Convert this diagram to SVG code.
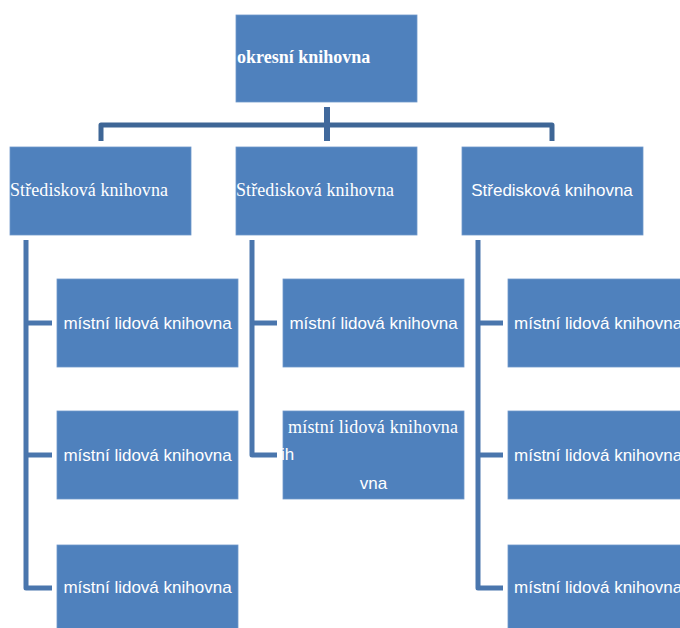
<svg xmlns="http://www.w3.org/2000/svg" width="680" height="628" viewBox="0 0 680 628">
<style>
.box{fill:#4f81bd;stroke:#6f98cb;stroke-width:0.8}
.top{fill:none;stroke:#3e6696;stroke-width:5;stroke-linejoin:round}
.vert{fill:none;stroke:#41699c;stroke-width:6}
.br{fill:none;stroke:#4a76ad;stroke-width:5;stroke-linejoin:round}
.serif{font-family:"Liberation Serif","Times New Roman",serif;font-size:18px;fill:#ffffff}
.bold{font-weight:bold}
.sans{font-family:"Liberation Sans",Arial,sans-serif;font-size:17px;fill:#ffffff}
</style>
<rect width="680" height="628" fill="#ffffff"/>
<g id="connectors">
<polyline class="top" points="101,141 101,125 552,125 552,141"/>
<line class="vert" x1="327" y1="107" x2="327" y2="141"/>
<polyline class="br" points="26,240 26,588 52,588"/>
<line class="br" x1="26" y1="323" x2="52" y2="323"/>
<line class="br" x1="26" y1="455" x2="52" y2="455"/>
<polyline class="br" points="252,240 252,455 277,455"/>
<line class="br" x1="252" y1="323" x2="277" y2="323"/>
<polyline class="br" points="478,240 478,588 503,588"/>
<line class="br" x1="478" y1="323" x2="503" y2="323"/>
<line class="br" x1="478" y1="455" x2="503" y2="455"/>
</g>
<g id="okresni">
<rect class="box" x="236" y="15" width="181" height="87"/>
<text class="serif bold" x="237" y="63">okresní knihovna</text>
</g>
<g id="stredisko1">
<rect class="box" x="10" y="147" width="181" height="88"/>
<text class="serif" x="10" y="196" textLength="158">Středisková knihovna</text>
</g>
<g id="stredisko2">
<rect class="box" x="236" y="147" width="181" height="88"/>
<text class="serif" x="236" y="196" textLength="158">Středisková knihovna</text>
</g>
<g id="stredisko3">
<rect class="box" x="462" y="147" width="181" height="88"/>
<text class="sans" x="552" y="196" text-anchor="middle">Středisková knihovna</text>
</g>
<g id="mlk1a">
<rect class="box" x="57" y="279" width="181" height="88"/>
<text class="sans" x="147.5" y="329" text-anchor="middle">místní lidová knihovna</text>
</g>
<g id="mlk1b">
<rect class="box" x="57" y="411" width="181" height="88"/>
<text class="sans" x="147.5" y="461" text-anchor="middle">místní lidová knihovna</text>
</g>
<g id="mlk1c">
<rect class="box" x="57" y="545" width="181" height="88"/>
<text class="sans" x="147.5" y="593" text-anchor="middle">místní lidová knihovna</text>
</g>
<g id="mlk2a">
<rect class="box" x="283" y="279" width="181" height="88"/>
<text class="sans" x="373.5" y="329" text-anchor="middle">místní lidová knihovna</text>
</g>
<g id="mlk2b">
<rect class="box" x="283" y="411" width="181" height="88"/>
<text class="serif" x="288" y="433" textLength="170">místní lidová knihovna</text>
<text class="sans" x="281" y="460">ih</text>
<text class="sans" x="373.5" y="489" text-anchor="middle">vna</text>
</g>
<g id="mlk3a">
<rect class="box" x="508" y="279" width="181" height="88"/>
<text class="sans" x="514" y="329">místní lidová knihovna</text>
</g>
<g id="mlk3b">
<rect class="box" x="508" y="411" width="181" height="88"/>
<text class="sans" x="514" y="461">místní lidová knihovna</text>
</g>
<g id="mlk3c">
<rect class="box" x="508" y="545" width="181" height="88"/>
<text class="sans" x="514" y="593">místní lidová knihovna</text>
</g>
</svg>
